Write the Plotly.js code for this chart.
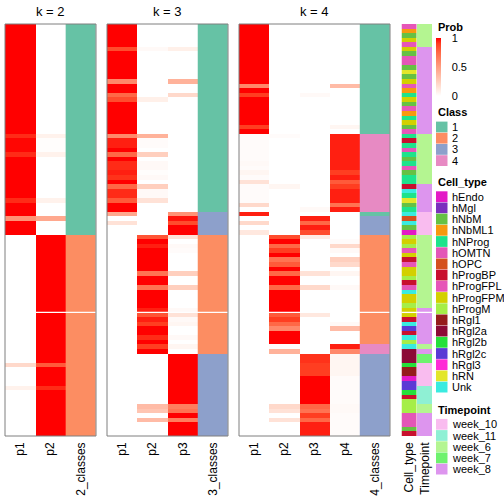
<!DOCTYPE html>
<html><head><meta charset="utf-8">
<script src="https://cdn.plot.ly/plotly-3.0.1.min.js"></script>
<style>html,body{margin:0;padding:0;background:#fff}#chart{width:504px;height:504px}</style>
</head><body><div id="chart"></div>
<script>
// ---------------- data ----------------
const k2_cols = ['p1','p2'];
const k3_cols = ['p1','p2','p3'];
const k4_cols = ['p1','p2','p3','p4'];
const titles = ['k = 2','k = 3','k = 4'];
const classLabels = ['2_classes','3_classes','4_classes'];
const annoLabels = ['Cell_type','Timepoint'];

const k2_p1 = [1,1,1,1,1,1,1,1,1,1, 1,1,1,1,1,1,1,1,1,1, 1,1,1,1,0.93,0.99,0.99,0.99,0.93,1,
  1,1,1,1,1,1,1,1,0.93,1, 1,1,0.55,1,1,1,0,0,0,0, 0,0,0,0,0,0,0,0,0,0,
  0,0,0,0,0,0,0,0,0,0, 0,0,0,0,0.2,0,0,0,0,0.07, 0,0,0,0,0,0,0,0,0,0];
const k2_p2 = [0,0,0,0,0,0,0,0,0,0, 0,0,0,0,0,0,0,0,0,0, 0,0,0,0,0.07,0.01,0.01,0.01,0.07,0,
  0,0,0,0,0,0,0,0,0.07,0, 0,0,0.45,0,0,0,1,1,1,1, 1,1,1,1,1,1,1,1,1,1,
  1,1,1,1,1,1,1,1,1,1, 1,1,1,1,0.8,1,1,1,1,0.93, 1,1,1,1,1,1,1,1,1,1];
const k2_class = [1,1,1,1,1,1,1,1,1,1, 1,1,1,1,1,1,1,1,1,1, 1,1,1,1,1,1,1,1,1,1,
  1,1,1,1,1,1,1,1,1,1, 1,1,1,1,1,1,2,2,2,2, 2,2,2,2,2,2,2,2,2,2,
  2,2,2,2,2,2,2,2,2,2, 2,2,2,2,2,2,2,2,2,2, 2,2,2,2,2,2,2,2,2,2];

const k3_p1 = [1,1,1,1,1,0.85,1,1,1,1, 1,1,0.6,1,1,0.75,0.85,1,1,1, 1,1,1,1,0.6,0.95,0.95,1,0.75,1,
  0.93,0.93,0.95,0.92,1,0.75,0.93,0.93,0.8,1, 1,0.45,0,0.15,0,0,0,0,0,0, 0,0,0,0,0,0,0,0,0,0,
  0,0,0,0,0,0,0,0,0,0, 0,0,0,0,0,0,0,0,0,0, 0,0,0,0,0,0,0,0,0,0];
const k3_p2 = [0,0,0,0,0,0.03,0,0,0,0, 0,0,0,0,0,0,0.08,0,0,0, 0,0,0,0,0.4,0.02,0.02,0,0.25,0,
  0.03,0.03,0.01,0.03,0,0.25,0.03,0.03,0.15,0, 0,0,0,0,0,0,0.82,1,0.95,1, 1,1,1,1,0.7,1,1,0.7,1,1,
  1,1,0.95,0.82,0.95,0.9,1,1,0.93,1, 0.9,1,0,0,0,0,0,0,0,0, 0,0,0,0.35,0.3,0,0.35,0,0,0];
const k3_p3 = [0,0,0,0,0,0.08,0,0,0,0, 0,0,0.4,0,0,0.2,0,0,0,0, 0,0,0,0,0,0,0,0,0,0,
  0,0,0,0,0,0,0,0,0,0, 0,0.55,0.97,0.85,1,1,0.15,0,0.03,0.02, 0,0,0,0,0.25,0,0,0.25,0,0,
  0,0,0.03,0.15,0.03,0.05,0,0,0.03,0, 0.05,0,1,1,1,1,1,1,1,1, 1,1,1,0.65,0.7,1,0.65,1,1,1];
const k3_class = [1,1,1,1,1,1,1,1,1,1, 1,1,1,1,1,1,1,1,1,1, 1,1,1,1,1,1,1,1,1,1,
  1,1,1,1,1,1,1,1,1,1, 1,3,3,3,3,3,2,2,2,2, 2,2,2,2,2,2,2,2,2,2,
  2,2,2,2,2,2,2,2,2,2, 2,2,3,3,3,3,3,3,3,3, 3,3,3,3,3,3,3,3,3,3];

const k4_p1 = [1,1,1,1,1,1,1,1,1,1, 1,1,1,0.6,1,0.9,1,1,1,1, 1,1,0.9,1,0.02,0.02,0.02,0.02,0.02,0.02,
  0.03,0.02,0.05,0.02,0.15,0.02,0.02,0.02,0.02,0.2, 0,0.95,0,0.2,0,0.12,0,0,0,0, 0,0,0,0,0,0,0,0,0,0,
  0,0,0,0,0,0,0,0,0,0, 0,0,0,0,0,0,0,0,0,0, 0,0,0,0,0,0,0,0,0,0];
const k4_p2 = [0,0,0,0,0,0,0,0,0,0, 0,0,0,0,0,0,0,0,0,0, 0,0,0,0,0.02,0,0,0,0,0,
  0,0,0,0,0,0.05,0,0,0,0, 0,0,0,0,0,0,0.85,1,0.75,0.9, 1,0.7,0.8,1,0.75,1,1,0.75,1,1,
  1,1,1,0.8,0.9,0.75,0.6,1,1,1, 0.02,0.4,0,0,0,0,0,0,0,0, 0,0,0,0.2,0.15,0,0.15,0,0,0];
const k4_p3 = [0,0,0,0,0,0,0,0,0,0, 0,0,0,0,0,0.03,0,0,0,0, 0,0,0,0,0,0,0,0,0,0,
  0,0,0,0,0,0,0,0,0,0, 0.03,0,0.95,0.75,0.95,0.85,0.1,0,0,0, 0,0,0,0,0.15,0,0,0.2,0,0,
  0,0,0,0.12,0,0,0,0,0,0, 0,0,0.92,0.92,0.9,0.9,0.9,1,1,1, 1,1,1,0.75,0.7,0.9,0.75,0.95,0.95,0.95];
const k4_p4 = [0,0,0,0,0,0,0,0,0,0, 0,0,0,0.35,0,0,0,0,0,0, 0,0,0.05,0,0.95,0.95,0.95,0.95,0.95,0.95,
  0.95,0.95,0.9,0.95,0.8,0.9,0.95,0.95,0.95,0.7, 0.95,0,0,0,0,0,0,0.02,0.2,0.03, 0,0.25,0.2,0,0.05,0,0,0.03,0,0,
  0,0,0,0,0,0.03,0.35,0,0,0, 0.95,0.6,0.05,0.05,0.05,0.05,0.05,0.02,0.02,0.02, 0.02,0.02,0.02,0.03,0.03,0.02,0.02,0.02,0.02,0.02];
const k4_class = [1,1,1,1,1,1,1,1,1,1, 1,1,1,1,1,1,1,1,1,1, 1,1,1,1,4,4,4,4,4,4,
  4,4,4,4,4,4,4,4,4,4, 4,1,3,3,3,3,2,2,2,2, 2,2,2,2,2,2,2,2,2,2,
  2,2,2,2,2,2,2,2,2,2, 4,4,3,3,3,3,3,3,3,3, 3,3,3,3,3,3,3,3,3,3];

const cellTypes = ['hEndo','hMgl','hNbM','hNbML1','hNProg','hOMTN','hOPC','hProgBP','hProgFPL','hProgFPM',
  'hProgM','hRgl1','hRgl2a','hRgl2b','hRgl2c','hRgl3','hRN','Unk'];
const cellTypeColors = ['#E31AC6','#7B2FBE','#66C144','#F7990F','#1EE38B','#E356B7','#D4501E','#C8102E','#E656B8','#D3D000',
  '#A5EE48','#951C1C','#8C0A37','#25E03A','#5B3AD5','#FF2BD6','#E3E62A','#3AEBE0'];
const timepoints = ['week_10','week_11','week_6','week_7','week_8'];
const timepointColors = ['#F9BCEF','#8FF0D4','#B4F591','#6EF26E','#DD95EE'];
const classNames = ['1','2','3','4'];
const classColors = ['#66C2A5','#FC8D62','#8DA0CB','#E78AC3'];

const cellType = ['hProgFPL','hNbML1','hNbM','hProgFPM','hProgFPL','hProgFPM','hNbM','hProgFPL','hOMTN','hNbM',
  'hRN','hNbM','hProgFPM','hProgFPL','hNbML1','hNProg','hProgFPM','hNbM','hProgFPL','hNbML1',
  'hNProg','hProgFPM','hNbM','hProgFPL','hNProg','hProgBP','hNProg','hOMTN','hNProg','hNbM',
  'hNProg','hProgFPL','hNbM','hNProg','hNProg','hProgBP','Unk','hNProg','hRN','hNbM',
  'hNProg','Unk','hOPC','Unk','hNbM','hEndo','hProgM','hProgFPM','hProgM','hProgFPL',
  'hProgFPM','hProgBP','hProgFPL','hProgFPM','hProgFPM','hProgM','hProgBP','hOMTN','Unk','hProgFPM',
  'hProgFPM','hProgM','hProgFPM','hProgFPM','hProgBP','Unk','hRgl2c','hProgBP','Unk','hProgM',
  'Unk','hRgl2a','hRgl2a','hRgl2a','hRgl2b','hRgl1','hRgl1','hEndo','hRgl2c','hRgl2c',
  'hRgl2b','hProgBP','hProgM','hProgM','hProgM','hOMTN','hOMTN','hOMTN','hNbM','hProgBP'];
const timepoint = ['week_6','week_6','week_6','week_6','week_6','week_8','week_8','week_8','week_8','week_8',
  'week_8','week_8','week_8','week_8','week_8','week_8','week_8','week_8','week_8','week_8',
  'week_8','week_8','week_8','week_8','week_6','week_6','week_6','week_6','week_6','week_6',
  'week_6','week_6','week_6','week_6','week_6','week_8','week_8','week_8','week_8','week_8',
  'week_8','week_10','week_10','week_10','week_10','week_10','week_6','week_6','week_6','week_6',
  'week_6','week_6','week_6','week_6','week_6','week_6','week_6','week_6','week_6','week_6',
  'week_6','week_6','week_8','week_8','week_8','week_8','week_8','week_8','week_8','week_8',
  'week_6','week_8','week_7','week_7','week_10','week_10','week_10','week_10','week_10','week_11',
  'week_11','week_11','week_11','week_6','week_6','week_8','week_8','week_8','week_8','week_8'];
const splitAfterRow = 62; // row-slice gap

// ---------------- drawing ----------------
const FONT = 'Liberation Sans, Arial, Helvetica, sans-serif';
const W = 504, H = 504;
const px = x => x / W, py = y => 1 - y / H;
const rowIdx = k2_p1.map((_, i) => i);
const probScale = [[0,'#FFFFFF'],[0.1,'#FFECE4'],[0.25,'#FFCFBE'],[0.5,'#FF9E82'],[0.75,'#FF6846'],[0.9,'#FF3E21'],[1,'#FF0000']];
function discreteScale(colors){
  const n = colors.length, s = [];
  colors.forEach((c,i)=>{ s.push([i/n,c]); s.push([(i+1)/n,c]); });
  return s;
}
const panels = [
  {cols:k2_cols, data:[k2_p1,k2_p2], cls:k2_class, xa:'x',  dom:[5,96]},
  {cols:k3_cols, data:[k3_p1,k3_p2,k3_p3], cls:k3_class, xa:'x2', dom:[107,228]},
  {cols:k4_cols, data:[k4_p1,k4_p2,k4_p3,k4_p4], cls:k4_class, xa:'x3', dom:[239,390]}
];
const traces = [];
const layout = {
  width: W, height: H, margin:{l:0,r:0,t:0,b:0}, paper_bgcolor:'#fff', plot_bgcolor:'#fff',
  font:{family:FONT, color:'#000'}, showlegend:false,
  yaxis:{domain:[py(436), py(24)], range:[rowIdx.length-0.5,-0.5], showticklabels:false, showgrid:false, zeroline:false, ticks:'', fixedrange:true},
  shapes:[], annotations:[]
};
function xAxis(domPx, labels){
  return {domain:[px(domPx[0]), px(domPx[1])], anchor:'y', type:'linear', range:[-0.5, labels.length-0.5],
    tickvals:labels.map((_, i)=>i), ticktext:labels, tickangle:-90, ticks:'', showgrid:false, zeroline:false, showline:false,
    tickfont:{size:12, family:FONT, color:'#000'}, ticklabelstandoff:3, fixedrange:true};
}
panels.forEach((p, k) => {
  const labels = p.cols.concat([classLabels[k]]);
  const colIdx = p.cols.map((_, i) => i);
  traces.push({type:'heatmap', x:colIdx, y:rowIdx, z:rowIdx.map(i=>p.data.map(a=>a[i])), xaxis:p.xa, yaxis:'y',
    zmin:0, zmax:1, colorscale:probScale, hoverinfo:'skip',
    showscale: k===0,
    colorbar:{x:px(436), xanchor:'left', xpad:0, y:py(67), yanchor:'middle', ypad:0, len:58, lenmode:'pixels',
      thickness:5, thicknessmode:'pixels', outlinewidth:0, tickvals:[0,0.5,1], ticktext:['0','0.5','1'],
      ticks:'outside', ticklen:9, tickcolor:'rgba(0,0,0,0)', tickfont:{size:11, family:FONT}}
  });
  traces.push({type:'heatmap', x:[p.cols.length], y:rowIdx, z:rowIdx.map(i=>[p.cls[i]]), xaxis:p.xa, yaxis:'y',
    zmin:0.5, zmax:classColors.length+0.5, colorscale:discreteScale(classColors), showscale:false, hoverinfo:'skip'});
  const axName = p.xa === 'x' ? 'xaxis' : 'xaxis' + p.xa.slice(1);
  layout[axName] = xAxis(p.dom, labels);
  layout.shapes.push({type:'line', xref:p.xa+' domain', yref:'y', x0:0, x1:1, y0:splitAfterRow+0.5, y1:splitAfterRow+0.5,
    line:{color:'#fff', width:1.3}});
  layout.shapes.push({type:'rect', xref:p.xa+' domain', yref:'y domain', x0:0, x1:1, y0:0, y1:1, line:{color:'#7F7F7F', width:1}});
  layout.annotations.push({xref:p.xa+' domain', yref:'paper', x:0.5, y:py(11), text:titles[k], showarrow:false,
    font:{size:13, family:FONT}, xanchor:'center', yanchor:'middle'});
});
// annotation columns
traces.push({type:'heatmap', x:[0], y:rowIdx, z:rowIdx.map(i=>[cellTypes.indexOf(cellType[i])]), xaxis:'x4', yaxis:'y',
  zmin:-0.5, zmax:cellTypes.length-0.5, colorscale:discreteScale(cellTypeColors), showscale:false, hoverinfo:'skip', xgap:1});
traces.push({type:'heatmap', x:[1], y:rowIdx, z:rowIdx.map(i=>[timepoints.indexOf(timepoint[i])]), xaxis:'x4', yaxis:'y',
  zmin:-0.5, zmax:timepoints.length-0.5, colorscale:discreteScale(timepointColors), showscale:false, hoverinfo:'skip', xgap:1});
layout.xaxis4 = xAxis([401.5, 432.5], annoLabels);
layout.shapes.push({type:'line', xref:'x4 domain', yref:'y', x0:0, x1:1, y0:splitAfterRow+0.5, y1:splitAfterRow+0.5, line:{color:'#fff', width:1.3}});

// legends
function legendTitle(text, y){
  layout.annotations.push({xref:'paper', yref:'paper', x:px(436), y:py(y), text:'<b>'+text+'</b>', showarrow:false,
    xanchor:'left', yanchor:'middle', font:{size:11, family:FONT}});
}
function legendBlock(title, titleY, names, colors, firstY){
  legendTitle(title, titleY);
  const step = 11.2;
  names.forEach((n, i) => {
    const cy = firstY + i*step;
    layout.shapes.push({type:'rect', xref:'paper', yref:'paper', x0:px(436), x1:px(447.5), y0:py(cy-5.4), y1:py(cy+5.4),
      fillcolor:colors[i], line:{width:0}});
    layout.annotations.push({xref:'paper', yref:'paper', x:px(450), y:py(cy), text:n, showarrow:false,
      xanchor:'left', yanchor:'middle', font:{size:11, family:FONT}});
  });
}
legendTitle('Prob', 27);
legendBlock('Class', 112, classNames, classColors, 127);
legendBlock('Cell_type', 182, cellTypes, cellTypeColors, 196.7);
legendBlock('Timepoint', 409.5, timepoints, timepointColors, 424.3);

Plotly.newPlot('chart', traces, layout, {staticPlot:true, displayModeBar:false});
</script>
</body></html>
